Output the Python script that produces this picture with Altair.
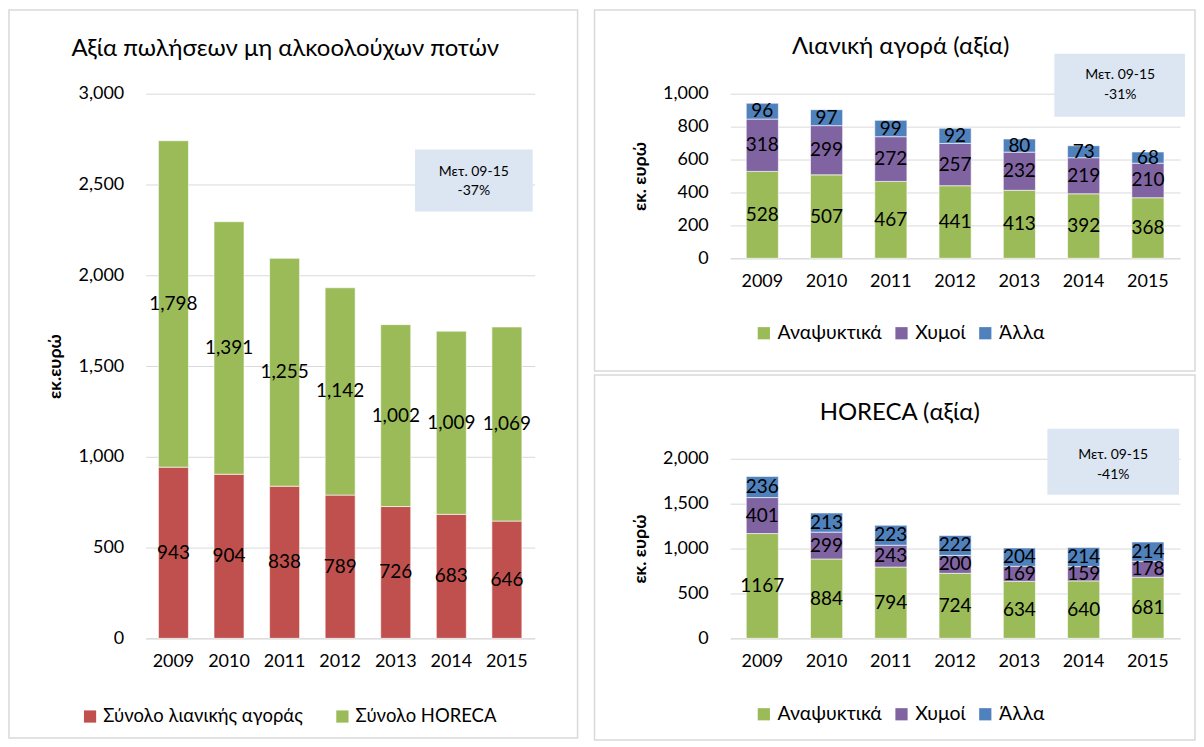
import altair as alt
import pandas as pd

FONT = "Lato"

years = ["2009", "2010", "2011", "2012", "2013", "2014", "2015"]

# Left chart: totals
total_series = ["Σύνολο λιανικής αγοράς", "Σύνολο HORECA"]
retail_total = [943, 904, 838, 789, 726, 683, 646]
horeca_total = [1798, 1391, 1255, 1142, 1002, 1009, 1069]

# Right charts: categories
cat_series = ["Αναψυκτικά", "Χυμοί", "Άλλα"]
retail_soft = [528, 507, 467, 441, 413, 392, 368]
retail_juice = [318, 299, 272, 257, 232, 219, 210]
retail_other = [96, 97, 99, 92, 80, 73, 68]
horeca_soft = [1167, 884, 794, 724, 634, 640, 681]
horeca_juice = [401, 299, 243, 200, 169, 159, 178]
horeca_other = [236, 213, 223, 222, 204, 214, 214]

left_ticks = [0, 500, 1000, 1500, 2000, 2500, 3000]
top_ticks = [0, 200, 400, 600, 800, 1000]
bottom_ticks = [0, 500, 1000, 1500, 2000]

red, green, purple, blue = "#C0504D", "#9BBB59", "#8064A2", "#4F81BD"
grid = "#D9D9D9"
box_fill = "#DCE6F2"


def long_df(series_names, arrays):
    rows = []
    for i, (name, arr) in enumerate(zip(series_names, arrays)):
        for y, v in zip(years, arr):
            rows.append({"year": y, "series": name, "value": v, "order": i})
    return pd.DataFrame(rows)


def panel(df, names, colors, width, height, ticks, title, title_xy,
          ytitle, label_fmt, legend_x, legend_y, col_pad, legend_fs, pad_inner,
          border, box, box_text_xy, box_lines):
    base = alt.Chart(df).transform_stack(
        stack="value", groupby=["year"], as_=["v0", "v1"],
        sort=[alt.SortField("order", order="ascending")]
    ).transform_calculate(mid="(datum.v0 + datum.v1) / 2")

    xscale = alt.Scale(paddingInner=pad_inner, paddingOuter=pad_inner / 2)
    xaxis = alt.Axis(title=None, labelAngle=0, ticks=False, domainColor=grid,
                     labelFontSize=18, labelPadding=14, labelColor="#000")
    yscale = alt.Scale(domain=[ticks[0], ticks[-1]], nice=False)
    yaxis = alt.Axis(values=ticks, format=",d", grid=True, gridColor=grid,
                     domain=False, ticks=False, labelFontSize=18,
                     labelPadding=22, labelColor="#000", labelOverlap=False,
                     title=ytitle, titleFontSize=18, titleFontWeight="bold",
                     titleColor="#000", titleX=-90, titleY=height / 2,
                     titleAngle=270, titleAlign="center",
                     titleBaseline="middle")

    bars = base.mark_bar(stroke="white", strokeWidth=0.6).encode(
        x=alt.X("year:N", sort=years, scale=xscale, axis=xaxis),
        y=alt.Y("v0:Q", scale=yscale, axis=yaxis),
        y2="v1:Q",
        color=alt.Color("series:N", scale=alt.Scale(domain=names, range=colors),
                        legend=alt.Legend(orient="none", legendX=legend_x,
                                          legendY=legend_y, direction="horizontal",
                                          title=None, symbolType="square",
                                          symbolSize=150, symbolStrokeWidth=0,
                                          labelFontSize=legend_fs, labelColor="#000",
                                          labelLimit=400,
                                          labelOffset=4, columnPadding=col_pad,
                                          padding=0)),
    )
    labels = base.mark_text(fontSize=19, color="#000", baseline="middle").encode(
        x=alt.X("year:N", sort=years, scale=xscale, axis=xaxis),
        y=alt.Y("mid:Q", scale=yscale, axis=yaxis),
        text=alt.Text("value:Q", format=label_fmt),
    )
    one = pd.DataFrame({"k": [0]})
    frame = alt.Chart(one).mark_rect(fill="transparent", stroke=grid, strokeWidth=1.5).encode(
        x=alt.value(border[0]), x2=alt.value(border[1]),
        y=alt.value(border[2]), y2=alt.value(border[3]))
    ttl = alt.Chart(one).mark_text(fontSize=24, color="#000", align="center",
                                   baseline="middle").encode(
        x=alt.value(title_xy[0]), y=alt.value(title_xy[1]), text=alt.value(title))
    bx = alt.Chart(one).mark_rect(fill=box_fill).encode(
        x=alt.value(box[0]), x2=alt.value(box[1]),
        y=alt.value(box[2]), y2=alt.value(box[3]))
    btxt = alt.Chart(one).mark_text(fontSize=14, color="#000", align="center",
                                    baseline="middle", lineHeight=20).encode(
        x=alt.value(box_text_xy[0]), y=alt.value(box_text_xy[1]),
        text=alt.value(box_lines))
    return alt.layer(frame, ttl, bars, labels, bx, btxt).properties(
        width=width, height=height,
    ).resolve_scale(x="shared", y="shared")


left_df = long_df(total_series, [retail_total, horeca_total])
top_df = long_df(cat_series, [retail_soft, retail_juice, retail_other])
bot_df = long_df(cat_series, [horeca_soft, horeca_juice, horeca_other])

left = panel(left_df, total_series, [red, green], 390, 546, left_ticks,
             "Αξία πωλήσεων μη αλκοολούχων ποτών", [140, -45], "εκ.ευρώ", ",d",
             -65, 615, 30, 18.5, 0.46,
             [-137, 433, -84, 646], [270, 388, 56, 118], [329, 78],
             ["Μετ. 09-15", "-37%"])

top = panel(top_df, cat_series, [green, purple, blue], 451, 165, top_ticks,
            "Λιανική αγορά (αξία)", [171, -47], "εκ. ευρώ", ",d",
            24, 230, 9, 19.5, 0.5,
            [-136, 466, -84, 278], [325, 456, -40, 23], [391, -19],
            ["Μετ. 09-15", "-31%"])

bottom = panel(bot_df, cat_series, [green, purple, blue], 451, 180, bottom_ticks,
               "HORECA (αξία)", [170, -46], "εκ. ευρώ", "d",
               24, 246, 9, 19.5, 0.5,
               [-136, 466, -84, 282], [318, 450, -30, 36], [384, -4],
               ["Μετ. 09-15", "-41%"])

right = alt.vconcat(top, bottom, spacing=2).resolve_scale(
    color="independent", x="independent", y="independent")

chart = alt.hconcat(left, right, spacing=15).resolve_scale(
    color="independent", x="independent", y="independent"
).properties(padding=0).configure(font=FONT).configure_view(stroke=None)

chart.save("out.html", embed_options={"renderer": "svg", "actions": False})
